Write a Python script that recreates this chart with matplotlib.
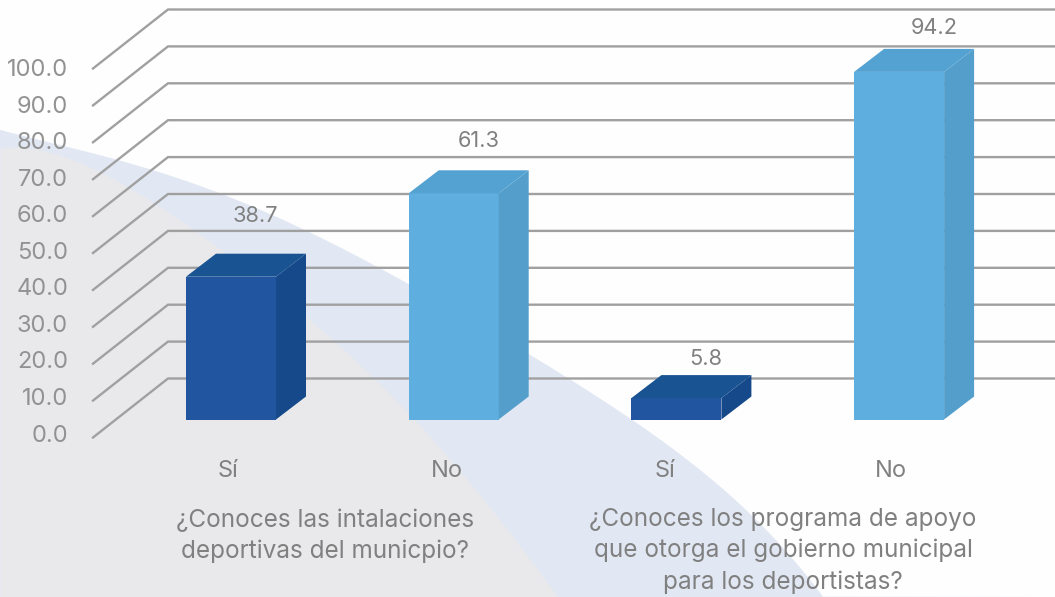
import matplotlib
matplotlib.use('Agg')
import matplotlib.pyplot as plt
import numpy as np
from matplotlib.patches import Polygon

categorias = ['Sí', 'No', 'Sí', 'No']
valores = [38.7, 61.3, 5.8, 94.2]
etiquetas_y = [0, 10, 20, 30, 40, 50, 60, 70, 80, 90, 100]
preguntas = ['¿Conoces las intalaciones\ndeportivas del municpio?',
             '¿Conoces los programa de apoyo\nque otorga el gobierno municipal\npara los deportistas?']

# borde de las formas del fondo, en pixeles
gris_x = [0, 93, 167, 213, 260, 307, 347, 390, 430, 480, 520, 557]
gris_y = [148, 170, 207, 247, 282, 317, 350, 393, 440, 497, 543, 597]
banda_x = [0, 133, 213, 267, 350, 440, 530, 563, 600, 667, 733, 823]
banda_y = [130, 163, 192, 213, 253, 300, 353, 375, 403, 443, 497, 597]

# sitio de los rotulos, a mano como en el original (pixeles)
rotulo_dx = [24, 25, 29, 35]
rotulo_dy = [38, 29, 16, 21]
cat_dx = [-3, -7, -11, -8]

W, H = 1055, 597
PX_Y = 3.69    # pixeles por unidad del eje y
PX_X = 222.7   # pixeles entre categorias
Y0 = 437.5     # pixel del 0 en el plano frontal
X0 = 231       # pixel de la primera categoria

plt.rcParams['font.family'] = ['Inter', 'DejaVu Sans']
fig = plt.figure(figsize=(W / 100, H / 100), dpi=100, facecolor='#fefefe')
ax = fig.add_axes([0, 0, 1, 1])
ax.set_xlim(-X0 / PX_X, (W - X0) / PX_X)
ax.set_ylim((Y0 - H) / PX_Y, Y0 / PX_Y)
ax.axis('off')


def cx(p):
    return (np.asarray(p, dtype=float) - X0) / PX_X


def cy(p):
    return (Y0 - np.asarray(p, dtype=float)) / PX_Y


def curva(xs, ys, fin):
    # suaviza el borde para que no salgan quiebres
    coef = np.polyfit(xs, ys, 5)
    px = np.linspace(0, fin, 200)
    return px, np.polyval(coef, px)


# fondo
bx, by = curva(banda_x, banda_y, 823)
gx, gy = curva(gris_x, gris_y, 557)
ax.fill_between(cx(np.append(bx, W)), cy(np.append(by, H)), cy(H), color='#e2e8f3', lw=0, zorder=0)
ax.fill_between(cx(gx), cy(gy), cy(H), color='#e9e9eb', lw=0, zorder=1)

# rejilla
pared_dx = 75 / PX_X
pared_dy = 59 / PX_Y
izq = cx(93)
der = cx(1055)
for v in etiquetas_y:
    ax.plot([izq, izq + pared_dx, der], [v, v + pared_dy, v + pared_dy],
            color='#a0a0a0', lw=1.7, zorder=2, solid_joinstyle='miter')
    ax.text(cx(68), v * 0.99 + 2 / PX_Y, '%.1f' % v, ha='right', va='center', fontsize=17,
            color='#929292', zorder=6)

# barras
ancho = 90 / PX_X
base = 18 / PX_Y
prof_x = 30 / PX_X
prof_y = 23 / PX_Y
colores = [('#2155a0', '#195392', '#16498a'), ('#5faee0', '#54a2d2', '#549ecb')]
for i, (cat, val) in enumerate(zip(categorias, valores)):
    frente, tapa, lado = colores[i % 2]
    x1 = i - ancho / 2
    x2 = i + ancho / 2
    arriba = base + val
    ax.add_patch(Polygon([(x1, base), (x2, base), (x2, arriba), (x1, arriba)],
                         fc=frente, ec='none', zorder=4))
    ax.add_patch(Polygon([(x2, base), (x2 + prof_x, base + prof_y),
                          (x2 + prof_x, arriba + prof_y), (x2, arriba)],
                         fc=lado, ec='none', zorder=4))
    ax.add_patch(Polygon([(x1, arriba), (x2, arriba), (x2 + prof_x, arriba + prof_y),
                          (x1 + prof_x, arriba + prof_y)],
                         fc=tapa, ec='none', zorder=4))
    ax.text(i + rotulo_dx[i] / PX_X, arriba + prof_y + rotulo_dy[i] / PX_Y, '%.1f' % val,
            ha='center', va='center', fontsize=15.7, color='#808080', zorder=6)
    ax.text(i + cat_dx[i] / PX_X, cy(471), cat, ha='center', va='center', fontsize=17,
            color='#808080', zorder=6)

ax.text(cx(325), cy(536), preguntas[0], ha='center', va='center', fontsize=17.5,
        color='#808080', linespacing=1.42, zorder=6)
ax.text(cx(783), cy(551), preguntas[1], ha='center', va='center', fontsize=17.5,
        color='#808080', linespacing=1.42, zorder=6)

plt.savefig('out.png', dpi=100)
plt.close()
